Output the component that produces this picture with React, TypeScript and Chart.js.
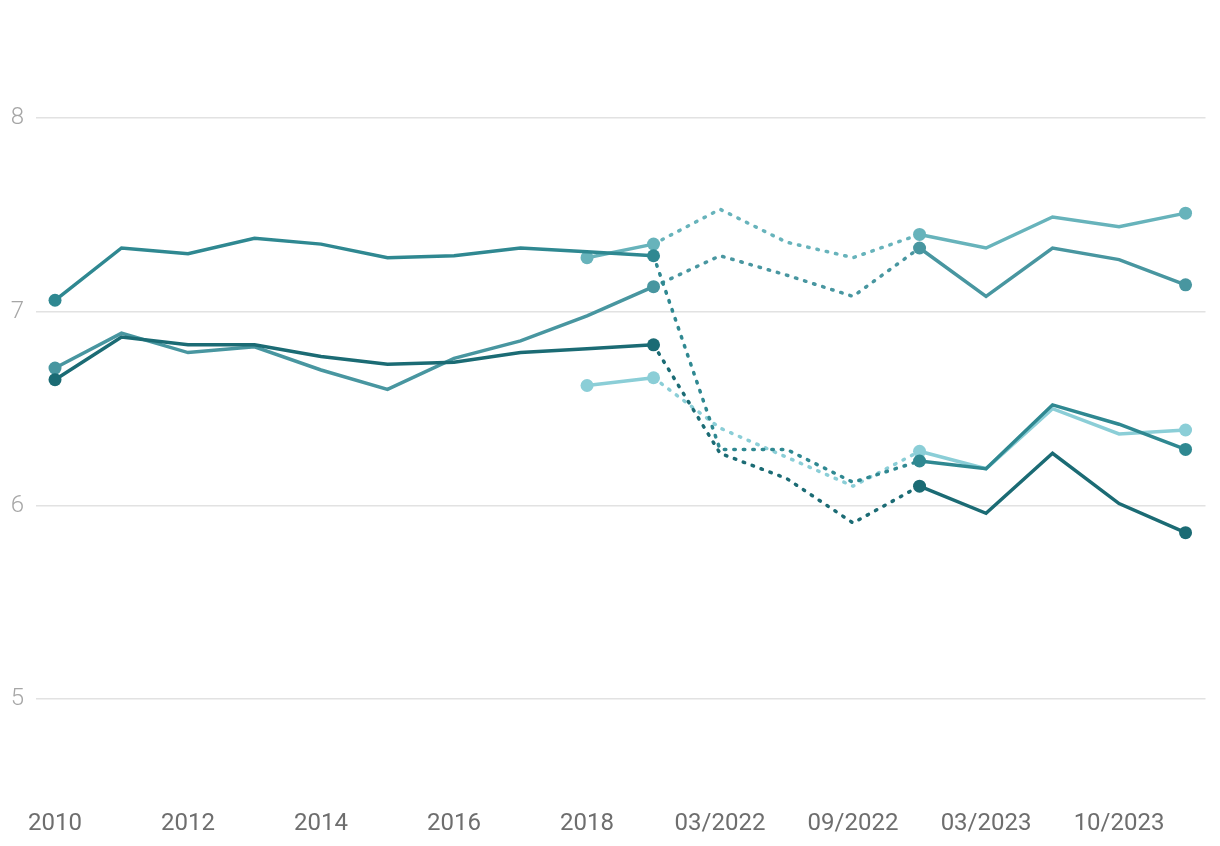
import React, { useEffect, useRef } from "react";
import { Chart, registerables } from "chart.js";

Chart.register(...registerables);

const xLabels = [
  "2010", "2011", "2012", "2013", "2014", "2015", "2016", "2017", "2018", "2019",
  "03/2022", "06/2022", "09/2022", "12/2022", "03/2023", "06/2023", "10/2023", "12/2023",
];

const seriesA = [7.06, 7.33, 7.30, 7.38, 7.35, 7.28, 7.29, 7.33, 7.31, 7.29, 6.29, 6.29, 6.12, 6.23, 6.19, 6.52, 6.42, 6.29];
const seriesB = [6.71, 6.89, 6.79, 6.82, 6.70, 6.60, 6.76, 6.85, 6.98, 7.13, 7.29, 7.19, 7.08, 7.33, 7.08, 7.33, 7.27, 7.14];
const seriesC = [6.65, 6.87, 6.83, 6.83, 6.77, 6.73, 6.74, 6.79, 6.81, 6.83, 6.27, 6.14, 5.91, 6.10, 5.96, 6.27, 6.01, 5.86];
const seriesD = [null, null, null, null, null, null, null, null, 7.28, 7.35, 7.53, 7.36, 7.28, 7.40, 7.33, 7.49, 7.44, 7.51];
const seriesE = [null, null, null, null, null, null, null, null, 6.62, 6.66, 6.40, 6.25, 6.10, 6.28, 6.19, 6.50, 6.37, 6.39];

const yTicks = [5, 6, 7, 8];
const xTickIdx = [0, 2, 4, 6, 8, 10, 12, 14, 16];

const DOT_START = 9;
const DOT_END = 13;

function makeDataset(label: string, values: (number | null)[], color: string, markers: number[]) {
  return {
    label,
    data: values.map((v, i) => ({ x: i, y: v })),
    borderColor: color,
    backgroundColor: color,
    pointBackgroundColor: color,
    borderWidth: 3.5,
    borderCapStyle: "round" as const,
    borderJoinStyle: "miter" as const,
    pointBorderWidth: 0,
    pointRadius: (ctx: any) => (markers.includes(ctx.dataIndex) ? 6.5 : 0),
    pointHoverRadius: 0,
    tension: 0,
    spanGaps: false,
    segment: {
      borderDash: (ctx: any) =>
        ctx.p0DataIndex >= DOT_START && ctx.p1DataIndex <= DOT_END ? [1.5, 8] : undefined,
    },
  };
}

export default function App() {
  const ref = useRef<HTMLCanvasElement | null>(null);

  useEffect(() => {
    if (!ref.current) return;
    const chart = new Chart(ref.current, {
      type: "line",
      data: {
        datasets: [
          makeDataset("C", seriesC, "#1b6b74", [0, 9, 13, 17]),
          makeDataset("A", seriesA, "#2f8891", [0, 9, 13, 17]),
          makeDataset("B", seriesB, "#4896a0", [0, 9, 13, 17]),
          makeDataset("D", seriesD, "#67b3bb", [8, 9, 13, 17]),
          makeDataset("E", seriesE, "#8bced7", [8, 9, 13, 17]),
        ],
      },
      options: {
        animation: false,
        responsive: false,
        maintainAspectRatio: false,
        layout: { padding: { top: 1, right: 6, bottom: 0, left: 0 } },
        plugins: { legend: { display: false }, tooltip: { enabled: false } },
        scales: {
          x: {
            type: "linear",
            min: -0.286,
            max: 17.3,
            grid: { display: false },
            border: { display: false },
            afterBuildTicks: (scale: any) => {
              scale.ticks = xTickIdx.map((v) => ({ value: v }));
            },
            afterFit: (scale: any) => {
              scale.height = 42;
            },
            ticks: {
              autoSkip: false,
              maxRotation: 0,
              padding: 6,
              color: "#6e6e6e",
              font: { family: "Roboto", size: 24 },
              callback: (v: any) => xLabels[Number(v)] ?? "",
            },
          },
          y: {
            min: 4.5,
            max: 8.433,
            border: { display: false },
            grid: { color: "#e2e2e2", lineWidth: 1.5, drawTicks: false },
            afterBuildTicks: (scale: any) => {
              scale.ticks = yTicks.map((v) => ({ value: v }));
            },
            afterFit: (scale: any) => {
              scale.width = 28;
            },
            ticks: {
              padding: 12,
              color: "#a6a6a6",
              font: { family: "Roboto", size: 24, weight: "300" },
              callback: (v: any) => String(v),
            },
          },
        },
      },
    });
    return () => chart.destroy();
  }, []);

  return (
    <div style={{ width: 1204, height: 830 }}>
      <canvas ref={ref} width={1204} height={830} style={{ display: "block" }} />
    </div>
  );
}
